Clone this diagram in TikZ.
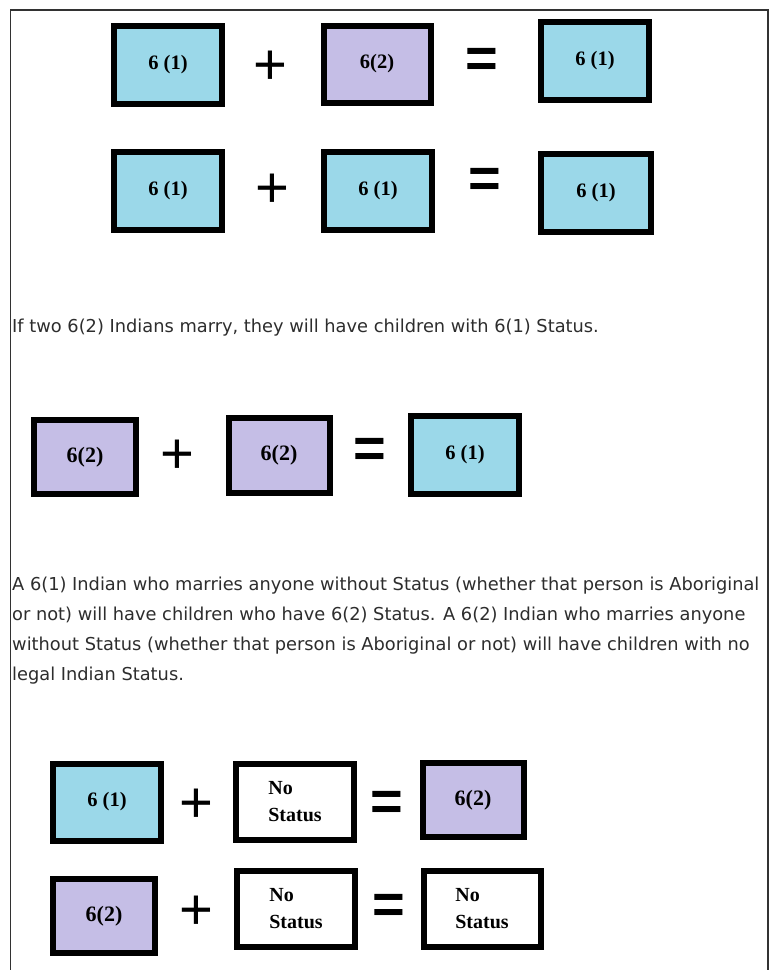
\documentclass[tikz,border=0pt]{standalone}
\usepackage{fontspec}
\setmainfont{Liberation Serif}
\newfontfamily\parafont{DejaVu Sans}
\newfontfamily\symfont{Liberation Sans}
\definecolor{cblue}{RGB}{155,216,233}
\definecolor{cpurp}{RGB}{197,190,230}
\definecolor{ctext}{RGB}{45,45,45}
\definecolor{cframe}{RGB}{50,50,50}
\begin{document}
\begin{tikzpicture}[x=1pt,y=-1pt,
  sbox/.style={draw=black, line width=6pt, inner sep=0pt},
  bluebox/.style={sbox, fill=cblue},
  purpbox/.style={sbox, fill=cpurp},
  whitebox/.style={sbox, fill=white},
  one/.style={font=\fontsize{20.5}{24}\selectfont\bfseries},
  two/.style={font=\fontsize{22}{26}\selectfont\bfseries},
  nost/.style={font=\fontsize{20}{27}\selectfont\bfseries, align=left},
  sym/.style={inner sep=0pt, font=\symfont\fontsize{58}{60}\selectfont},
  eqsym/.style={inner sep=0pt, font=\symfont\fontsize{56}{60}\selectfont\bfseries},
  para/.style={anchor=base west, inner sep=0pt, text=ctext, font=\parafont\fontsize{17.8}{30}\selectfont}
]
\useasboundingbox (0,0) rectangle (771,970);
\fill[white] (0,0) rectangle (771,970);
% frame
\draw[cframe, line width=1.5pt] (10.5,975) -- (10.5,10) -- (768,10) -- (768,975);

% row 1
\node[bluebox, minimum width=108pt, minimum height=78pt, one] (a1) at (168,65) {6 (1)};
\node[sym] (p1) at (270,68) {+};
\node[purpbox, minimum width=107pt, minimum height=77pt, one] (a2) at (377,64) {6(2)};
\node[eqsym] (e1) at (482,63) {=};
\node[bluebox, minimum width=108pt, minimum height=78pt, one] (a3) at (595,61) {6 (1)};

% row 2
\node[bluebox, minimum width=108pt, minimum height=78pt, one] (b1) at (168,191) {6 (1)};
\node[sym] (p2) at (272,191) {+};
\node[bluebox, minimum width=108pt, minimum height=78pt, one] (b2) at (378,191) {6 (1)};
\node[eqsym] (e2) at (485,183) {=};
\node[bluebox, minimum width=110pt, minimum height=78pt, one] (b3) at (596,193) {6 (1)};

% text 1
\node[para] (t1) at (12,332) {If two 6(2) Indians marry, they will have children with 6(1) Status.};

% row 3
\node[purpbox, minimum width=102pt, minimum height=74pt, two] (c1) at (85,457) {6(2)};
\node[sym] (p3) at (177,457) {+};
\node[purpbox, minimum width=101pt, minimum height=75pt, two] (c2) at (279,455) {6(2)};
\node[eqsym] (e3) at (370,453) {=};
\node[bluebox, minimum width=108pt, minimum height=78pt, one] (c3) at (465,455) {6 (1)};

% paragraph
\node[para] (l1) at (12,590) {A 6(1) Indian who marries anyone without Status (whether that person is Aboriginal};
\node[para] (l2) at (12,620) {or not) will have children who have 6(2) Status. A 6(2) Indian who marries anyone};
\node[para] (l3) at (12,650) {without Status (whether that person is Aboriginal or not) will have children with no};
\node[para] (l4) at (12,680) {legal Indian Status.};

% row 4
\node[bluebox, minimum width=108pt, minimum height=77pt, one] (d1) at (107,802) {6 (1)};
\node[sym] (p4) at (196,806) {+};
\node[whitebox, minimum width=118pt, minimum height=76pt, nost] (d2) at (295,802) {No\\Status};
\node[eqsym] (e4) at (387,806) {=};
\node[purpbox, minimum width=101pt, minimum height=74pt, two] (d3) at (473,800) {6(2)};

% row 5
\node[purpbox, minimum width=102pt, minimum height=74pt, two] (e1b) at (104,916) {6(2)};
\node[sym] (p5) at (196,913) {+};
\node[whitebox, minimum width=118pt, minimum height=76pt, nost] (e2b) at (296,909) {No\\Status};
\node[eqsym] (e5) at (389,909) {=};
\node[whitebox, minimum width=117pt, minimum height=76pt, nost] (e3b) at (482,909) {No\\Status};
\end{tikzpicture}
\end{document}
